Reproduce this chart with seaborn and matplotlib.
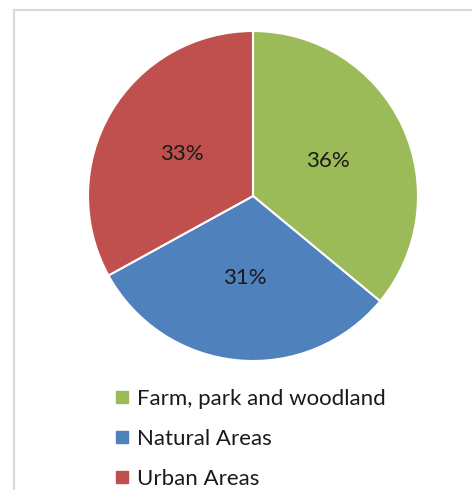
import matplotlib
matplotlib.use("Agg")
import matplotlib.pyplot as plt
from matplotlib.patches import Rectangle
from matplotlib.lines import Line2D
import seaborn as sns

categories = ["Farm, park and woodland", "Natural Areas", "Urban Areas"]
shares = [36, 31, 33]
colors = ["#9BBB59", "#4F81BD", "#C0504D"]

sns.set_theme(style="white")
plt.rcParams["font.family"] = ["Lato", "DejaVu Sans"]

W, H = 472, 490
fig = plt.figure(figsize=(W / 100, H / 100), dpi=100)
fig.patch.set_facecolor("white")

# chart-area frame
fig.add_artist(Rectangle((14 / W, -0.05), 1.2, (H - 10) / H + 0.05,
                         transform=fig.transFigure, fill=False,
                         edgecolor="#d9d9d9", linewidth=1.5))

cx, cy, r = 253, 196, 165
ax = fig.add_axes([(cx - r) / W, (H - cy - r) / H, 2 * r / W, 2 * r / H])
wedges, texts, autotexts = ax.pie(
    shares, colors=colors, startangle=90, counterclock=False,
    autopct="%d%%", pctdistance=0.5,
    wedgeprops=dict(edgecolor="white", linewidth=1.5),
    textprops=dict(fontsize=16, color="#1a1a1a"))
ax.set_xlim(-1, 1)
ax.set_ylim(-1, 1)
ax.set_aspect("equal")
ax.axis("off")

handles = [Line2D([0], [0], marker="s", linestyle="none", markersize=8,
                  markerfacecolor=c, markeredgecolor=c) for c in colors]
fig.legend(handles, categories, loc="upper left",
           bbox_to_anchor=(91 / W, 1 - 369 / H), frameon=False,
           fontsize=16, labelspacing=0.9, handletextpad=0.15,
           handlelength=1.0, borderpad=0.4, labelcolor="#1a1a1a")

fig.savefig("out.png", dpi=100, facecolor="white")
